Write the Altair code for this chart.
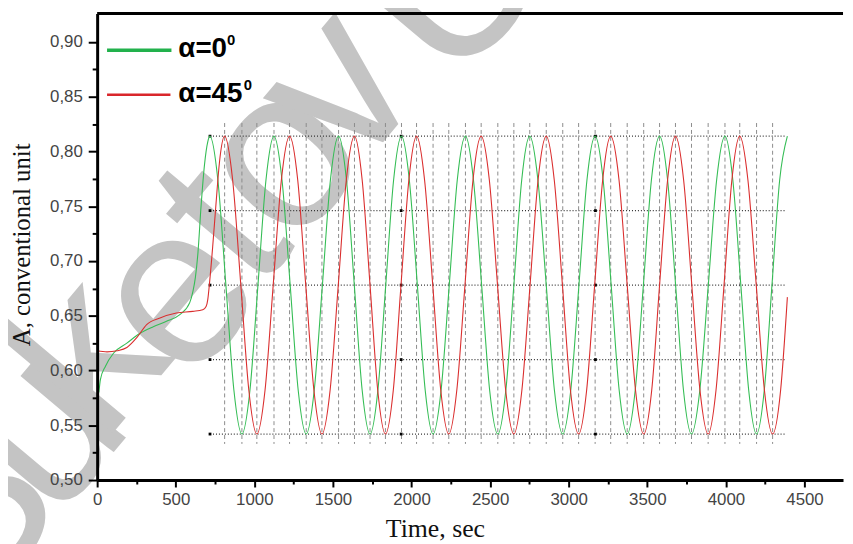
import altair as alt
import pandas as pd

# ---------------- data ----------------
green_t = [11, 21, 53, 105, 189, 273, 357, 441, 526, 589, 609, 625, 641, 662, 683, 704, 717,
           768, 819, 870, 921, 972, 1023, 1074, 1125, 1176, 1228, 1279, 1330,
           1381, 1433, 1484, 1536, 1586, 1636, 1686, 1736, 1786, 1836, 1886, 1936,
           1986, 2037, 2087, 2137, 2188, 2240, 2291, 2343, 2394, 2446, 2497, 2549,
           2600, 2651, 2701, 2752, 2804, 2857, 2909, 2962, 3013, 3065, 3116, 3168,
           3219, 3270, 3321, 3372, 3423, 3475, 3526, 3578, 3629, 3680, 3730, 3781,
           3834, 3888, 3941, 3994, 4044, 4095, 4145, 4195, 4244, 4293, 4342, 4391]
green_v = [0.580, 0.592, 0.604, 0.616, 0.625, 0.634, 0.640, 0.645, 0.651, 0.662, 0.672, 0.685,
           0.707, 0.752, 0.788, 0.809, 0.814,
           0.774, 0.678, 0.582, 0.542, 0.582, 0.678, 0.774, 0.814, 0.774, 0.678, 0.582, 0.542,
           0.582, 0.678, 0.774, 0.814, 0.774, 0.678, 0.582, 0.542, 0.582, 0.678, 0.774, 0.814,
           0.774, 0.678, 0.582, 0.542, 0.582, 0.678, 0.774, 0.814, 0.774, 0.678, 0.582, 0.542,
           0.582, 0.678, 0.774, 0.814, 0.774, 0.678, 0.582, 0.542, 0.582, 0.678, 0.774, 0.814,
           0.774, 0.678, 0.582, 0.542, 0.582, 0.678, 0.774, 0.814, 0.774, 0.678, 0.582, 0.542,
           0.582, 0.678, 0.774, 0.814, 0.774, 0.678, 0.582, 0.542, 0.582, 0.678, 0.774, 0.814]

red_t = [0, 63, 126, 189, 252, 315, 400, 504, 609, 672, 693, 704, 715, 735, 756, 778, 811,
         862, 914, 965, 1016, 1068, 1120, 1172, 1224, 1276, 1327, 1379, 1430,
         1482, 1534, 1585, 1637, 1686, 1736, 1785, 1834, 1884, 1933, 1983, 2032,
         2083, 2135, 2186, 2237, 2288, 2340, 2391, 2443, 2495, 2547, 2599, 2651,
         2702, 2754, 2805, 2857, 2908, 2960, 3011, 3063, 3114, 3165, 3216, 3267,
         3320, 3372, 3425, 3477, 3528, 3578, 3629, 3679, 3731, 3783, 3835, 3887,
         3937, 3988, 4038, 4088, 4140, 4193, 4245, 4297, 4348, 4391]
red_v = [0.618, 0.617, 0.618, 0.621, 0.630, 0.642, 0.648, 0.6525, 0.654, 0.6555, 0.6585, 0.665,
         0.680, 0.713, 0.752, 0.790, 0.814,
         0.774, 0.678, 0.582, 0.542, 0.582, 0.678, 0.774, 0.814, 0.774, 0.678, 0.582, 0.542,
         0.582, 0.678, 0.774, 0.814, 0.774, 0.678, 0.582, 0.542, 0.582, 0.678, 0.774, 0.814,
         0.774, 0.678, 0.582, 0.542, 0.582, 0.678, 0.774, 0.814, 0.774, 0.678, 0.582, 0.542,
         0.582, 0.678, 0.774, 0.814, 0.774, 0.678, 0.582, 0.542, 0.582, 0.678, 0.774, 0.814,
         0.774, 0.678, 0.582, 0.542, 0.582, 0.678, 0.774, 0.814, 0.774, 0.678, 0.582, 0.542,
         0.582, 0.678, 0.774, 0.814, 0.774, 0.678, 0.582, 0.542, 0.582, 0.667]

series_names = ["α=0", "α=45"]

# dashed vertical guide lines (times of the extrema)
guide_t = [811, 921, 1016, 1125, 1224, 1330, 1430, 1536, 1637, 1736, 1834, 1936, 2032, 2137,
           2237, 2343, 2443, 2549, 2651, 2752, 2857, 2962, 3063, 3168, 3267, 3372, 3477, 3578,
           3679, 3781, 3887, 3994, 4088, 4195, 4297]
guide_top = 0.826
guide_bottom = 0.533

# dotted horizontal levels
level_v = [0.814, 0.746, 0.678, 0.610, 0.542]
level_start = 718
level_end = 4385
level_marker_t = [718, 1934, 3170]

x_ticks = [0, 250, 500, 750, 1000, 1250, 1500, 1750, 2000, 2250, 2500, 2750, 3000,
           3250, 3500, 3750, 4000, 4250, 4500]
y_ticks = [0.5, 0.525, 0.55, 0.575, 0.6, 0.625, 0.65, 0.675, 0.7, 0.725, 0.75, 0.775,
           0.8, 0.825, 0.85, 0.875, 0.9]

# watermark letters ("Buketov U...") and their centres, pixels inside the plot area
wm_letters = ["B", "u", "k", "e", "t", "o", "v", "U"]
wm_px = [-128, -55, -10, 80, 128, 186, 244, 362]
wm_py = [510, 421, 347, 285, 214, 147, 76, -30]

# ---------------- tables ----------------
curves = pd.concat([
    pd.DataFrame({"t": green_t, "v": green_v, "s": series_names[0]}),
    pd.DataFrame({"t": red_t, "v": red_v, "s": series_names[1]}),
])
guides = pd.DataFrame({"t": guide_t, "y0": guide_top, "y1": guide_bottom})
levels = pd.DataFrame({"v": level_v, "t0": level_start, "t1": level_end})
markers = pd.DataFrame([{"t": t, "v": v} for t in level_marker_t for v in level_v])
wm = pd.DataFrame({"ch": wm_letters, "px": wm_px, "py": wm_py})
one = pd.DataFrame({"k": [0]})

W, H = 753, 471
xscale = alt.Scale(domain=[0, 4745], nice=False, zero=False)
yscale = alt.Scale(domain=[0.5, 0.926], nice=False, zero=False)

x_axis = alt.Axis(
    values=x_ticks, format="d",
    labelExpr="datum.value % 500 == 0 ? datum.label : ''",
    tickSize={"condition": {"test": "datum.value % 500 == 0", "value": 7}, "value": 4},
    tickWidth=2, tickColor="black", domainColor="black", domainWidth=3,
    labelFont="Liberation Sans", labelFontSize=17, labelColor="#444", labelPadding=5,
    labelOverlap=False, labelFlush=False,
    title="Time, sec", titleFont="Liberation Serif", titleFontSize=26,
    titleFontWeight="normal", titleColor="#111",
    titleX=341, titleY=57, titleAlign="center", titleBaseline="alphabetic",
    grid=False, zindex=1)

y_axis = alt.Axis(
    values=y_ticks,
    labelExpr="round(datum.value*1000) % 50 == 0 ? replace(format(datum.value, '.2f'), '.', ',') : ''",
    tickSize={"condition": {"test": "round(datum.value*1000) % 50 == 0", "value": 9}, "value": 5},
    tickWidth=2, tickColor="black", domainColor="black", domainWidth=3,
    labelFont="Liberation Sans", labelFontSize=17, labelColor="#444", labelPadding=6,
    labelOverlap=False, labelFlush=False,
    title="A, conventional unit", titleFont="Liberation Serif", titleFontSize=25,
    titleFontWeight="normal", titleColor="#111",
    titleAngle=270, titleX=-68, titleY=233, titleAlign="center", titleBaseline="alphabetic",
    grid=False, zindex=1)


def X(field):
    return alt.X(field, type="quantitative", scale=xscale, axis=x_axis)


def Y(field):
    return alt.Y(field, type="quantitative", scale=yscale, axis=y_axis)


watermark = alt.Chart(wm).mark_text(
    align="center", baseline="middle", angle=310,
    font="Liberation Sans", fontSize=230, fontWeight="normal", color="#c4c4c4", opacity=1
).encode(
    x=alt.X("px:Q", scale=None), y=alt.Y("py:Q", scale=None), text="ch:N"
)

guide_layer = alt.Chart(guides).mark_rule(
    strokeDash=[4, 3], color="#8c8c8c", strokeWidth=1
).encode(x=X("t"), y=Y("y0"), y2="y1")

level_layer = alt.Chart(levels).mark_rule(
    strokeDash=[1, 2], color="#333", strokeWidth=1.2
).encode(y=Y("v"), x=X("t0"), x2="t1")

marker_layer = alt.Chart(markers).mark_square(
    size=8, color="black", opacity=1
).encode(x=X("t"), y=Y("v"))

line_layer = alt.Chart(curves).mark_line(
    interpolate="monotone", strokeWidth=1.1
).encode(
    x=X("t"), y=Y("v"),
    color=alt.Color("s:N", scale=alt.Scale(domain=series_names, range=["#35bd55", "#da2e2e"]),
                    legend=None),
)

# legend drawn by hand (inside the plot, top-left)
leg_green = alt.Chart(one).mark_rule(color="#22b14c", strokeWidth=3.5).encode(
    x=alt.value(10), x2=alt.value(75), y=alt.value(37))
leg_red = alt.Chart(one).mark_rule(color="#d9262b", strokeWidth=2.5).encode(
    x=alt.value(10), x2=alt.value(74), y=alt.value(82))
leg_txt1 = alt.Chart(one).mark_text(
    text="α=0", align="left", baseline="alphabetic", font="Liberation Sans",
    fontSize=28, fontWeight="bold", color="black"
).encode(x=alt.value(82), y=alt.value(44))
leg_sup1 = alt.Chart(one).mark_text(
    text="0", align="left", baseline="alphabetic", font="Liberation Sans",
    fontSize=15, fontWeight="bold", color="black"
).encode(x=alt.value(131), y=alt.value(32))
leg_txt2 = alt.Chart(one).mark_text(
    text="α=45", align="left", baseline="alphabetic", font="Liberation Sans",
    fontSize=28, fontWeight="bold", color="black"
).encode(x=alt.value(82), y=alt.value(89))
leg_sup2 = alt.Chart(one).mark_text(
    text="0", align="left", baseline="alphabetic", font="Liberation Sans",
    fontSize=15, fontWeight="bold", color="black"
).encode(x=alt.value(148), y=alt.value(77))

frame_top = alt.Chart(one).mark_rule(color="black", strokeWidth=3).encode(
    x=alt.value(0), x2=alt.value(W), y=alt.value(0))

chart = alt.layer(
    watermark, guide_layer, level_layer, marker_layer, line_layer,
    leg_green, leg_red, leg_txt1, leg_sup1, leg_txt2, leg_sup2,
    frame_top
).properties(
    width=W, height=H,
    autosize=alt.AutoSizeParams(type="none"),
    padding={"left": 90, "top": 3, "right": 2, "bottom": 62},
    background="white",
).configure_view(stroke=None)

chart.save("out.html", embed_options={"renderer": "svg", "actions": False})
